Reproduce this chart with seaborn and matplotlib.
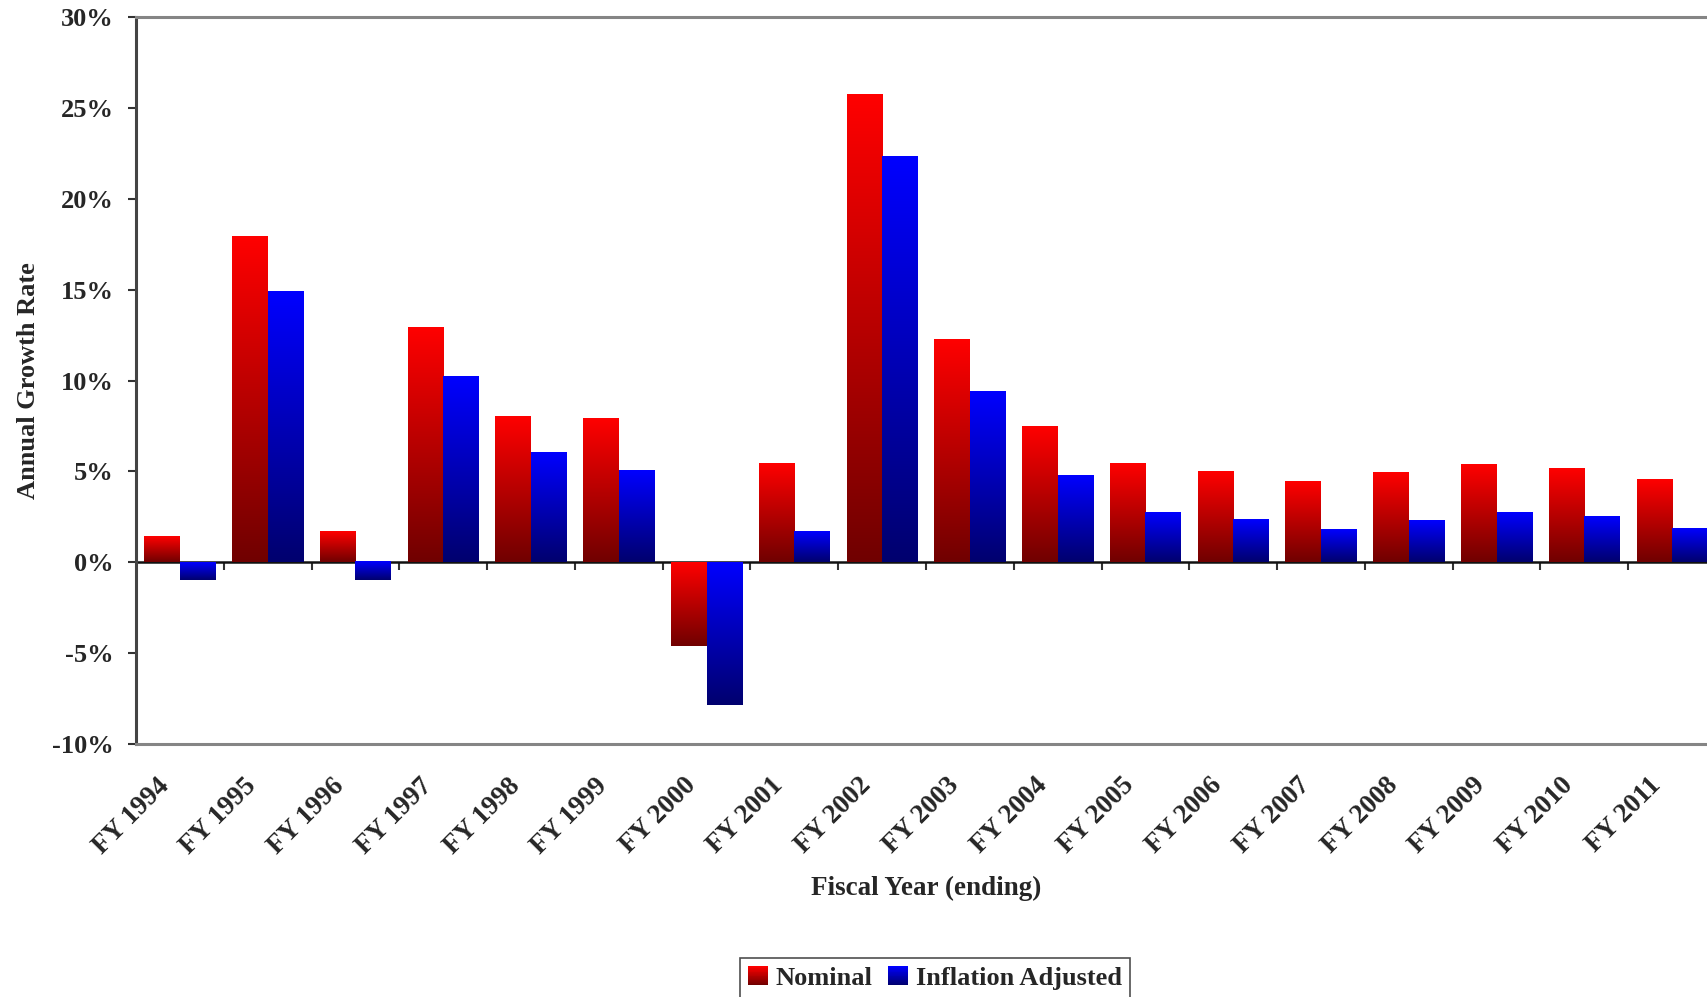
import numpy as np
import pandas as pd
import matplotlib
matplotlib.use("Agg")
import matplotlib.pyplot as plt
import seaborn as sns
from matplotlib.colors import LinearSegmentedColormap
from matplotlib.patches import Patch, Rectangle
from matplotlib.legend_handler import HandlerBase
from matplotlib.ticker import FuncFormatter, FixedLocator
from matplotlib.transforms import ScaledTranslation

years = ["FY 1994", "FY 1995", "FY 1996", "FY 1997", "FY 1998", "FY 1999",
         "FY 2000", "FY 2001", "FY 2002", "FY 2003", "FY 2004", "FY 2005",
         "FY 2006", "FY 2007", "FY 2008", "FY 2009", "FY 2010", "FY 2011"]
nominal = [1.38, 17.9, 1.68, 12.9, 7.98, 7.92, -4.6, 5.4, 25.7, 12.24,
           7.46, 5.42, 4.98, 4.43, 4.93, 5.37, 5.15, 4.54]
inflation_adjusted = [-0.96, 14.9, -1.0, 10.2, 6.0, 5.04, -7.86, 1.68, 22.3, 9.36,
                      4.76, 2.72, 2.34, 1.79, 2.28, 2.72, 2.50, 1.84]
series_names = ["Nominal", "Inflation Adjusted"]
y_ticks = [-10, -5, 0, 5, 10, 15, 20, 25, 30]

df = pd.DataFrame({
    "year": years * 2,
    "value": nominal + inflation_adjusted,
    "series": [series_names[0]] * len(years) + [series_names[1]] * len(years),
})

sns.set_style("white")
plt.rcParams["font.family"] = ["Liberation Serif", "DejaVu Serif"]
plt.rcParams["font.weight"] = "bold"

red_top, red_bot = "#FF0000", "#700000"
blue_top, blue_bot = "#0000FF", "#00006E"
cmaps = {
    series_names[0]: LinearSegmentedColormap.from_list("r", [red_bot, red_top]),
    series_names[1]: LinearSegmentedColormap.from_list("b", [blue_bot, blue_top]),
}
palette = {series_names[0]: red_top, series_names[1]: blue_top}

fig = plt.figure(figsize=(17.08, 9.97), dpi=100)
ax = fig.add_axes([136 / 1708, 1 - 744 / 997, 1580 / 1708, 727 / 997])

sns.barplot(data=df, x="year", y="value", hue="series", palette=palette,
            width=0.81, dodge=True, gap=0, saturation=1, legend=False, ax=ax,
            linewidth=0, errorbar=None)

ylim = (-10, 30)
xlim = (-0.5, len(years) - 0.5)

grad = np.linspace(0, 1, 256).reshape(-1, 1)
for patch in list(ax.patches):
    fc = patch.get_facecolor()
    key = series_names[0] if fc[0] > fc[2] else series_names[1]
    x0, w = patch.get_x(), patch.get_width()
    y0, h = patch.get_y(), patch.get_height()
    ymin, ymax = min(y0, y0 + h), max(y0, y0 + h)
    if ymax - ymin <= 0:
        continue
    ax.imshow(grad, cmap=cmaps[key], origin="lower", aspect="auto",
              extent=(x0, x0 + w, ymin, ymax), interpolation="bilinear", zorder=2)
    patch.set_visible(False)

ax.set_xlim(*xlim)
ax.set_ylim(*ylim)

# y axis
ax.yaxis.set_major_locator(FixedLocator(y_ticks))
ax.yaxis.set_major_formatter(FuncFormatter(lambda v, p: f"{v:.0f}%"))
ax.tick_params(axis="y", direction="out", length=6, width=1.5, color="#333333",
               labelsize=19, pad=10, left=True)
for lab in ax.get_yticklabels():
    lab.set_fontweight("bold")

# x tick labels (at category centers, no marks)
ax.set_xticks(range(len(years)))
ax.set_xticklabels(years, rotation=45, ha="right", va="top", fontsize=19.5,
                   fontweight="bold")
ax.tick_params(axis="x", length=0, pad=21)
shift = ScaledTranslation(-6 / 100, 0, fig.dpi_scale_trans)
for lab in ax.get_xticklabels():
    lab.set_transform(lab.get_transform() + shift)

# spines
for s in ["top", "bottom"]:
    ax.spines[s].set_color("#858585")
    ax.spines[s].set_linewidth(2.2)
ax.spines["left"].set_color("#444444")
ax.spines["left"].set_linewidth(2.2)
ax.spines["right"].set_visible(False)

# zero line with boundary ticks
zero_loc = (0 - ylim[0]) / (ylim[1] - ylim[0])
sec = ax.secondary_xaxis(zero_loc)
sec.set_xticks(np.arange(0.5, len(years) - 0.5, 1.0))
sec.tick_params(axis="x", direction="out", length=6, width=1.5, color="#333333",
                labelbottom=False, labeltop=False, bottom=True, top=False)
sec.spines["bottom"].set_color("#111111")
sec.spines["bottom"].set_linewidth(1.8)
sec.spines["top"].set_visible(False)

ax.set_ylabel("Annual Growth Rate", fontsize=19, fontweight="bold", labelpad=9)
ax.set_xlabel("Fiscal Year (ending)", fontsize=19.5, fontweight="bold")
ax.xaxis.set_label_coords(0.5, -0.181)


class GradHandler(HandlerBase):
    def __init__(self, cmap):
        super().__init__()
        self.cmap = cmap

    def create_artists(self, legend, orig_handle, xdescent, ydescent, width,
                       height, fontsize, trans):
        n = 24
        arts = []
        for i in range(n):
            arts.append(Rectangle((-xdescent, -ydescent + height * i / n), width,
                                  height / n + 0.3, facecolor=self.cmap(i / (n - 1)),
                                  edgecolor="none", transform=trans))
        return arts


handles = [Patch(label=n) for n in series_names]
hmap = {h: GradHandler(cmaps[n]) for h, n in zip(handles, series_names)}
leg = fig.legend(handles=handles, labels=series_names, handler_map=hmap,
                 loc="upper center", bbox_to_anchor=(935 / 1708, 1 - 958 / 997),
                 ncol=2, frameon=True, fancybox=False, fontsize=19,
                 handlelength=0.75, handleheight=0.75, handletextpad=0.3,
                 columnspacing=0.6, borderpad=0.3, borderaxespad=0)
leg.get_frame().set_edgecolor("#222222")
leg.get_frame().set_linewidth(1.2)
for t in leg.get_texts():
    t.set_fontweight("bold")

fig.savefig("out.png", dpi=100)
